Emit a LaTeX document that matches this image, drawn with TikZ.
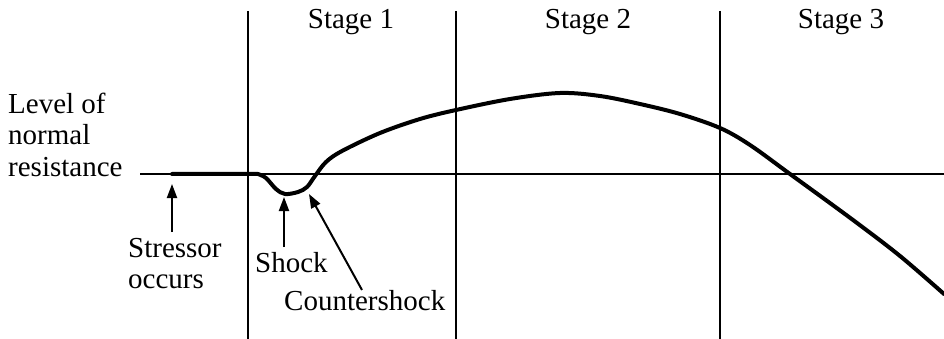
\documentclass[tikz,border=0pt]{standalone}
\usepackage{fontspec}
\setmainfont{Liberation Serif}
\usetikzlibrary{arrows.meta}
\begin{document}
\begin{tikzpicture}[x=1pt,y=-1pt,
  thin line/.style={line width=2pt},
  curve/.style={line width=4pt, line join=round, line cap=round},
  pointer/.style={line width=2pt, -{Triangle[length=14pt,width=10pt]}},
  lbl/.style={inner sep=0pt, anchor=base west, font=\fontsize{29}{31}\selectfont},
  stagelbl/.style={inner sep=0pt, anchor=base, font=\fontsize{29}{31}\selectfont}]
\useasboundingbox (0,0) rectangle (944,339);
% baseline and stage dividers
\coordinate (b0) at (140,174);
\coordinate (b1) at (944,174);
\draw[thin line] (b0) -- (b1);
\coordinate (v1t) at (248,11); \coordinate (v1b) at (248,339);
\coordinate (v2t) at (456,11); \coordinate (v2b) at (456,339);
\coordinate (v3t) at (720,11); \coordinate (v3b) at (720,339);
\draw[thin line] (v1t) -- (v1b);
\draw[thin line] (v2t) -- (v2b);
\draw[thin line] (v3t) -- (v3b);
% stage labels
\node[stagelbl] (s1) at (351,29) {Stage 1};
\node[stagelbl] (s2) at (588,29) {Stage 2};
\node[stagelbl] (s3) at (841,29) {Stage 3};
% left label
\node[lbl] (l1) at (8,114) {Level of};
\node[lbl] (l2) at (8,145) {normal};
\node[lbl] (l3) at (8,177) {resistance};
% curve
\draw[curve] (172,174) -- (258,174)
  plot[smooth, tension=0.55] coordinates {(258,174) (266,178) (276,189) (285,194) (298,192) (307,187) (315,176) (326,162) (342,151) (380,133) (420,119) (456,110) (510,99) (560,93) (600,96) (640,104) (680,114) (720,128) (750,145) (790,174) (853,220) (900,256) (944,294)};
% pointers
\coordinate (st) at (172,232); \coordinate (sh) at (172,184);
\draw[pointer] (st) -- (sh);
\coordinate (kt) at (284,247); \coordinate (kh) at (284,197);
\draw[pointer] (kt) -- (kh);
\coordinate (ct) at (362,290); \coordinate (ch) at (309,194);
\draw[pointer] (ct) -- (ch);
% bottom labels
\node[lbl] (t1) at (128,257) {Stressor};
\node[lbl] (t2) at (128,288) {occurs};
\node[lbl] (t3) at (255,272) {Shock};
\node[lbl] (t4) at (284,310) {Countershock};
\end{tikzpicture}
\end{document}
